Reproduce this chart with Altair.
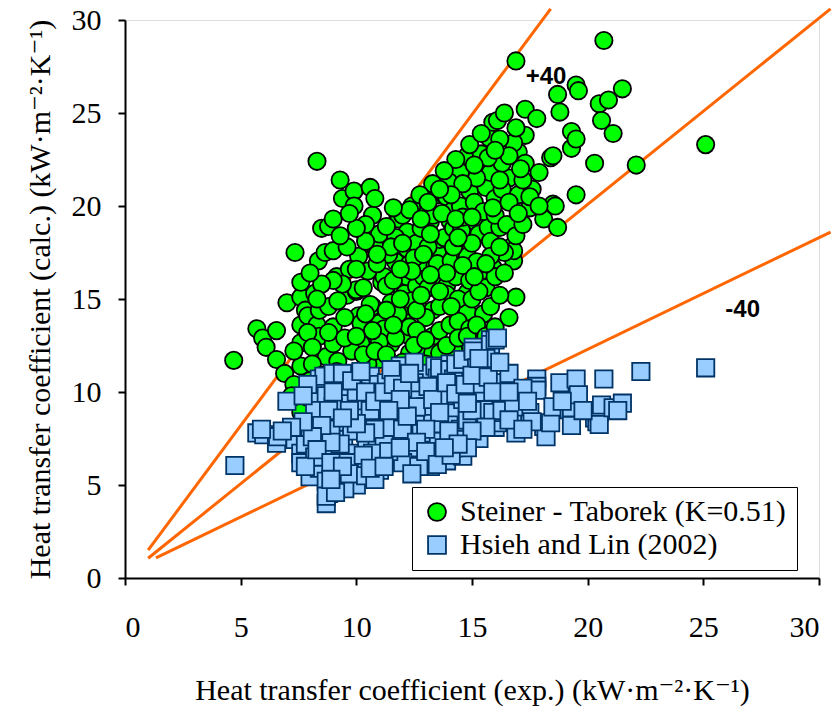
import altair as alt
import pandas as pd

# Measured vs. predicted heat transfer coefficients (kW m-2 K-1)
SERIES = ["Steiner - Taborek (K=0.51)", "Hsieh and Lin (2002)"]

steiner_pts = [
    (4.7, 11.7), (5.7, 13.4), (5.95, 12.9), (6.1, 12.4), (6.55, 13.3), (6.55, 11.75),
    (6.9, 11.0), (7.3, 10.4), (7.0, 14.8), (7.6, 15.1), (7.6, 15.9), (7.35, 17.5),
    (7.6, 13.6), (7.6, 12.65), (7.6, 11.4), (7.6, 8.9), (7.6, 8.15), (7.8, 14.4),
    (7.9, 14.1), (8.2, 15.3), (8.3, 13.6), (8.4, 14.4), (8.4, 13.0), (8.5, 18.8),
    (8.3, 22.4), (8.36, 17.05), (8.65, 17.5), (8.7, 11.9), (8.8, 14.6), (8.8, 18.9),
    (9.0, 19.3), (9.0, 17.6), (9.0, 13.5), (9.15, 16.2), (9.2, 11.65), (9.15, 11.1),
    (9.3, 21.4), (9.4, 20.4), (9.6, 15.2), (9.9, 20.8), (9.9, 20.0), (10.0, 15.4),
    (10.0, 15.5), (10.1, 17.3), (10.1, 14.1), (10.2, 13.7), (10.2, 12.6), (10.6, 21.0),
    (10.7, 19.5), (10.7, 14.6), (10.6, 14.7), (11.0, 13.7), (11.0, 11.75), (11.1, 15.9),
    (11.2, 13.4), (11.2, 16.2), (11.3, 15.7), (11.5, 14.8), (11.7, 17.0), (11.8, 19.4),
    (11.85, 19.3), (11.9, 13.2), (12.0, 15.35), (12.0, 19.5), (12.1, 15.3), (12.1, 13.8),
    (12.1, 14.6), (12.2, 18.6), (12.2, 16.2), (12.2, 17.7), (12.3, 13.0), (12.3, 12.1),
    (12.3, 16.9), (12.3, 13.5), (12.6, 18.0), (12.6, 15.7), (12.9, 16.2), (12.9, 14.3),
    (12.9, 12.3), (13.0, 16.9), (13.2, 19.15), (13.3, 19.5), (13.3, 14.4), (13.3, 13.0),
    (13.3, 12.1), (13.4, 16.8), (13.5, 20.6), (13.5, 17.5), (13.5, 16.9), (13.6, 18.2),
    (13.6, 13.3), (13.6, 12.1), (13.8, 18.3), (13.8, 15.0), (13.8, 15.8), (13.8, 20.6),
    (13.9, 20.5), (13.9, 15.7), (13.9, 15.25), (14.05, 19.2), (14.05, 13.6), (14.2, 19.8),
    (14.2, 18.8), (14.1, 17.05), (14.3, 16.2), (14.5, 21.8), (14.5, 20.0), (14.55, 18.7),
    (14.6, 12.65), (14.7, 17.4), (14.8, 22.7), (14.8, 15.35), (14.8, 14.3), (14.8, 17.3),
    (14.9, 20.8), (15.2, 19.1), (15.3, 18.5), (15.35, 12.9), (15.4, 22.8), (15.4, 16.5),
    (15.6, 21.0), (15.6, 15.6), (15.7, 18.85), (15.75, 23.65), (15.8, 18.1), (15.9, 24.5),
    (15.9, 16.7), (16.0, 20.4), (16.1, 24.6), (16.2, 18.85), (16.6, 21.5), (16.7, 17.8),
    (16.8, 17.05), (16.8, 17.6), (16.9, 15.1), (16.9, 27.8), (17.0, 22.9), (17.0, 20.6),
    (17.3, 25.2), (17.3, 23.8), (17.3, 22.3), (17.6, 20.9), (17.8, 24.7), (17.9, 21.8),
    (18.1, 19.3), (18.4, 22.6), (18.5, 22.7), (18.5, 20.1), (18.6, 20.0), (18.7, 26.0),
    (18.7, 18.85), (18.8, 25.05), (19.3, 24.0), (19.3, 23.1), (19.5, 23.6), (19.5, 26.5),
    (19.6, 26.2), (19.5, 20.6), (20.3, 22.3), (20.5, 25.5), (20.6, 24.6), (20.7, 28.9),
    (20.9, 25.7), (21.1, 23.9), (21.5, 26.3), (22.1, 22.2), (25.1, 23.3),
    (10.5, 16.5), (10.8, 17.8), (11.0, 18.5), (11.4, 17.4), (11.6, 16.0), (11.8, 14.2),
    (12.4, 14.9), (12.5, 17.2), (12.8, 18.8), (12.7, 19.8), (13.1, 17.8), (13.1, 15.6),
    (13.6, 14.6), (13.9, 16.4), (14.2, 17.8), (14.4, 15.0), (14.4, 13.8), (14.6, 19.4),
    (14.9, 16.0), (15.0, 18.0), (15.2, 17.0), (15.1, 20.2), (15.5, 19.7), (15.5, 14.2),
    (15.8, 21.8), (16.0, 19.5), (16.3, 22.3), (16.3, 20.9), (16.4, 17.5), (16.5, 19.0),
    (16.8, 23.4), (17.2, 21.4), (15.2, 21.5), (14.9, 13.4), (13.0, 14.0), (12.6, 13.3),
    (11.5, 12.6), (11.0, 12.7), (10.7, 13.3), (10.3, 15.6), (10.9, 16.9), (9.7, 16.6),
    (9.5, 14.0), (9.8, 12.2), (10.5, 11.5), (12.0, 11.6), (13.0, 11.5), (14.2, 12.3),
    (13.7, 19.6), (14.0, 21.3), (12.4, 20.0), (11.7, 18.3), (15.7, 22.6), (16.2, 23.6),
    (17.5, 19.9), (16.0, 16.2), (15.0, 15.0), (14.9, 23.3), (14.3, 22.5), (13.8, 21.9),
    (13.3, 21.2), (12.75, 20.6), (12.3, 19.8),
    (10.3, 12.0), (10.8, 12.2), (11.3, 12.0), (11.7, 12.9), (12.5, 12.5), (13.0, 12.8),
    (13.9, 12.5), (14.4, 12.9), (14.8, 13.0), (15.2, 13.6), (15.6, 13.0), (16.0, 13.5),
    (15.8, 14.6), (16.2, 15.2), (16.4, 16.4), (16.6, 14.0), (15.3, 15.4), (15.8, 17.3),
    (16.2, 17.8), (16.9, 18.4), (17.2, 19.0), (17.5, 20.5), (17.9, 20.0), (17.1, 22.0),
    (16.6, 22.7), (16.9, 24.2), (16.4, 25.0), (16.0, 23.0), (15.4, 23.9), (15.1, 22.2),
    (14.6, 21.2), (14.1, 20.6), (13.6, 20.9), (13.1, 20.2), (12.8, 19.3), (12.9, 17.4),
    (12.4, 16.5), (11.9, 16.6), (11.5, 17.8), (11.3, 18.9), (11.6, 19.9), (10.8, 20.4),
    (10.4, 19.0), (10.4, 18.1), (10.0, 18.8), (9.7, 19.6), (9.6, 17.8), (9.3, 18.4),
    (9.4, 15.8), (9.2, 14.9), (9.0, 12.6), (8.8, 13.2), (9.5, 12.9), (10.0, 13.0),
    (10.4, 14.2), (11.3, 14.4), (11.9, 15.0), (12.6, 14.4), (13.6, 15.4), (14.1, 14.6),
    (14.6, 16.8), (15.1, 16.2), (15.6, 16.9), (13.2, 16.3), (12.8, 15.2), (11.6, 13.6),
    (14.3, 19.3), (15.0, 19.4), (15.9, 19.9), (16.6, 20.2), (17.0, 19.6), (16.2, 21.4),
    (14.4, 18.3), (13.2, 18.5), (12.0, 18.0), (10.9, 17.4), (10.0, 16.6), (9.0, 16.0),
    (8.5, 15.8), (8.0, 16.4), (8.3, 15.0), (7.9, 13.2), (7.3, 12.2), (8.1, 12.4),
    (8.1, 11.5), (8.0, 10.6), (8.5, 10.9), (7.9, 9.7), (7.2, 9.8),
]

hsieh_pts = [
    (4.75, 6.05), (5.7, 7.8), (6.0, 7.7), (6.55, 7.25), (6.6, 7.6), (7.0, 9.5),
    (7.35, 7.45), (7.6, 6.7), (7.6, 6.2), (8.0, 5.45), (8.4, 5.9), (8.4, 7.6),
    (8.4, 10.7), (8.4, 9.6), (8.36, 8.7), (8.6, 10.85), (8.7, 9.8), (8.8, 4.55),
    (8.7, 4.0), (9.1, 6.7), (9.15, 5.65), (9.2, 5.1), (9.2, 8.3), (9.45, 7.45),
    (9.45, 9.6), (9.6, 8.95), (9.9, 6.7), (10.0, 5.0), (10.0, 6.0), (10.1, 6.2),
    (10.3, 9.4), (10.45, 7.25), (10.5, 10.5), (10.6, 10.85), (10.9, 6.2), (10.9, 7.1),
    (10.95, 8.3), (10.95, 10.4), (11.2, 7.45), (11.5, 8.7), (11.6, 6.35), (11.8, 11.1),
    (11.9, 10.75), (11.9, 11.4), (12.1, 7.6), (12.2, 9.6), (12.4, 6.5), (12.7, 9.9),
    (12.75, 8.5), (13.0, 11.0), (13.2, 6.0), (13.4, 11.4), (13.5, 7.35), (13.5, 10.75),
    (13.6, 11.3), (13.6, 10.3), (13.6, 6.55), (13.9, 6.3), (14.0, 8.7), (14.05, 9.15),
    (14.05, 11.5), (14.05, 11.2), (14.2, 10.7), (14.3, 11.5), (14.5, 8.0), (14.5, 7.45),
    (14.6, 6.55), (14.6, 9.6), (14.6, 11.75), (15.05, 12.4), (15.05, 12.2), (15.3, 7.5),
    (15.35, 10.5), (15.35, 10.1), (15.5, 9.5), (15.5, 9.05), (15.8, 12.8), (15.8, 12.55),
    (16.0, 12.8), (16.0, 8.1), (16.1, 12.9), (16.1, 8.35), (16.35, 9.4), (16.9, 9.7),
    (16.9, 9.95), (16.9, 7.8), (16.9, 8.7), (17.1, 9.6), (17.5, 8.9), (17.8, 10.7),
    (17.8, 10.3), (17.8, 10.1), (18.1, 8.15), (18.2, 7.6), (18.4, 8.35), (18.5, 9.2),
    (18.8, 10.5), (19.2, 9.05), (19.3, 9.15), (19.3, 8.2), (19.5, 10.7), (19.6, 9.85),
    (20.3, 8.6), (20.4, 8.4), (20.5, 8.9), (20.5, 8.25), (20.6, 9.3), (20.7, 10.7),
    (21.1, 9.15), (21.5, 9.4), (22.3, 11.1), (25.1, 11.3),
    (7.8, 7.2), (8.0, 8.1), (8.2, 6.5), (8.6, 7.0), (8.9, 8.0), (9.0, 9.2),
    (9.3, 10.3), (9.6, 6.2), (9.8, 7.9), (10.0, 10.0), (10.2, 8.6), (10.6, 9.0),
    (10.7, 6.7), (11.0, 9.8), (11.3, 10.5), (11.4, 8.1), (11.7, 9.2), (12.0, 8.0),
    (12.3, 7.0), (12.5, 10.5), (12.8, 7.8), (13.0, 9.2), (13.3, 8.3), (13.8, 9.8),
    (14.2, 7.0), (14.8, 8.5), (15.0, 9.0), (15.2, 11.3), (15.6, 11.8), (15.9, 8.9),
    (16.3, 10.5), (16.6, 11.0), (17.2, 10.2), (8.7, 5.2), (9.5, 4.8), (9.7, 5.6),
    (10.4, 5.5), (11.0, 5.8), (12.0, 6.2), (12.7, 6.0), (11.5, 11.2), (12.5, 11.6),
    (9.0, 11.0), (8.2, 9.0), (7.9, 10.4), (7.7, 9.8), (5.9, 8.0), (7.8, 6.0), (8.7, 4.4),
    (8.8, 9.0), (9.0, 10.0), (9.4, 11.0), (9.8, 10.6), (10.2, 11.1), (10.4, 10.0),
    (10.8, 9.5), (11.2, 10.0), (11.6, 10.4), (12.0, 10.2), (12.3, 11.0), (12.6, 9.2),
    (13.1, 10.3), (13.3, 9.6), (13.9, 10.5), (14.3, 9.9), (14.7, 10.4), (15.0, 10.9),
    (15.3, 11.8), (15.7, 10.8), (16.2, 11.6), (15.9, 10.0), (16.3, 9.0), (16.8, 9.2),
    (17.4, 9.5), (17.6, 8.4), (15.6, 8.1), (15.0, 7.9), (14.8, 7.0), (14.0, 7.9),
    (13.6, 8.9), (13.0, 8.0), (12.6, 7.3), (12.2, 8.7), (11.9, 9.6), (11.4, 9.0),
    (10.8, 8.0), (10.4, 7.8), (10.0, 8.3), (9.7, 9.0), (9.4, 8.6), (9.3, 7.2),
    (8.9, 7.3), (8.5, 8.2), (8.1, 7.6), (7.7, 8.4), (7.2, 8.1), (6.8, 7.9),
    (8.3, 6.9), (8.9, 6.2), (9.4, 6.0), (10.3, 6.6), (10.8, 5.3), (11.4, 6.8),
    (11.9, 7.0), (12.4, 5.6), (13.0, 6.8), (13.5, 6.1), (14.1, 6.6), (14.4, 7.2),
    (9.1, 4.6), (8.9, 5.3), (10.6, 5.9), (11.2, 6.0), (13.8, 7.0), (14.8, 9.4),
    (16.6, 10.0), (16.6, 8.5), (17.2, 8.0), (18.9, 9.5), (19.8, 9.0), (21.3, 9.0),
]

# +40 % / 0 % / -40 % deviation bands, each given by its two end points
band_names = ["upper", "diag", "lower"]
band_x0 = [1.0, 1.0, 1.34]
band_y0 = [1.5, 1.06, 1.08]
band_x1 = [18.4, 30.5, 30.5]
band_y1 = [30.6, 30.6, 18.6]

band_labels = ["+40", "-40"]
band_label_x = [18.2, 26.7]
band_label_y = [26.95, 14.4]

rows = []
for name, pts in zip(SERIES, [steiner_pts, hsieh_pts]):
    for x, y in pts:
        rows.append({"exp": x, "calc": y, "series": name})
points = pd.DataFrame(rows)

band_rows = []
for n, x0, y0, x1, y1 in zip(band_names, band_x0, band_y0, band_x1, band_y1):
    band_rows.append({"exp": x0, "calc": y0, "band": n, "o": 0})
    band_rows.append({"exp": x1, "calc": y1, "band": n, "o": 1})
bands = pd.DataFrame(band_rows)

labels = pd.DataFrame({"exp": band_label_x, "calc": band_label_y, "text": band_labels})

SERIF = "'Liberation Serif', 'Times New Roman', 'DejaVu Serif', serif"
ticks = [0, 5, 10, 15, 20, 25, 30]

x_enc = alt.X(
    "exp:Q",
    scale=alt.Scale(domain=[0, 30], nice=False, zero=False),
    axis=alt.Axis(
        values=ticks, format="d", grid=False,
        title="Heat transfer coefficient (exp.) (kW·m⁻²·K⁻¹)",
        titleFont=SERIF, titleFontSize=30, titleFontWeight="normal", titleColor="black",
        titleY=112, titleBaseline="middle",
        labelFont=SERIF, labelFontSize=30, labelColor="black", labelPadding=27,
        domainColor="black", domainWidth=2, tickColor="black", tickWidth=2, tickSize=7,
    ),
)
y_enc = alt.Y(
    "calc:Q",
    scale=alt.Scale(domain=[0, 30], nice=False, zero=False),
    axis=alt.Axis(
        values=ticks, format="d", grid=False,
        title="Heat transfer coefficient (calc.) (kW·m⁻²·K⁻¹)",
        titleFont=SERIF, titleFontSize=30, titleFontWeight="normal", titleColor="black",
        titleX=-85, titleBaseline="middle",
        labelFont=SERIF, labelFontSize=30, labelColor="black", labelPadding=17,
        domainColor="black", domainWidth=2, tickColor="black", tickWidth=2, tickSize=7,
    ),
)

lines = alt.Chart(bands).mark_line(color="#FF6600", strokeWidth=3, clip=False).encode(
    x=x_enc, y=y_enc, detail="band:N", order="o:Q"
)

legend = alt.Legend(
    title=None, orient="none", legendX=287, legendY=467,
    fillColor="white", strokeColor="black", padding=10, cornerRadius=0,
    labelFont=SERIF, labelFontSize=30, labelColor="black", labelOffset=8,
    symbolSize=320, symbolStrokeWidth=1.8, rowPadding=3, labelLimit=500,
)

scatter = alt.Chart(points).mark_point(filled=True, opacity=1, strokeWidth=1.8, size=300).encode(
    x="exp:Q",
    y="calc:Q",
    fill=alt.Fill("series:N", scale=alt.Scale(domain=SERIES, range=["#00FF00", "#99CCFF"]), legend=legend),
    stroke=alt.Stroke("series:N", scale=alt.Scale(domain=SERIES, range=["#000000", "#003366"]), legend=legend),
    shape=alt.Shape("series:N", scale=alt.Scale(domain=SERIES, range=["circle", "square"]), legend=legend),
)

texts = alt.Chart(labels).mark_text(
    font="'Liberation Sans', Arial, sans-serif", fontSize=24, fontWeight="bold", color="black"
).encode(x="exp:Q", y="calc:Q", text="text:N")

chart = alt.layer(lines, scatter, texts).properties(
    width=694, height=558, autosize="none",
    padding={"left": 125, "top": 20, "right": 18, "bottom": 137},
).configure_view(stroke="#808080", strokeWidth=1.5).configure(background="white")

chart.save("out.html", embed_options={"renderer": "svg", "actions": False})
